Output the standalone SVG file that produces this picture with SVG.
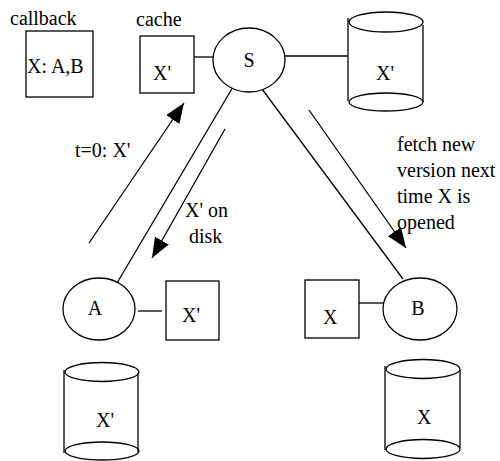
<svg xmlns="http://www.w3.org/2000/svg" width="500" height="461" viewBox="0 0 500 461">
<style>
text{font-family:"Liberation Serif","Times New Roman",serif;font-size:20px;fill:#000}
.s{fill:#fff;stroke:#000;stroke-width:1.3}
.l{stroke:#000;stroke-width:1.3;fill:none}
</style>
<defs>
<marker id="ah" markerUnits="userSpaceOnUse" viewBox="0 0 20 16" refX="20" refY="8" markerWidth="20" markerHeight="16" orient="auto">
<path d="M0,0 L20,8 L0,16 z" fill="#000"/>
</marker>
</defs>
<rect width="500" height="461" fill="#fff"/>
<g id="connectors">
<line class="l" x1="192" y1="57" x2="214" y2="57"/>
<line class="l" x1="285" y1="56" x2="348" y2="56"/>
<line class="l" x1="233" y1="87" x2="117" y2="283"/>
<line class="l" x1="262" y1="89" x2="403" y2="279"/>
<line class="l" x1="138" y1="311" x2="162" y2="311"/>
<line class="l" x1="356" y1="303" x2="383" y2="303"/>
<line class="l" x1="89" y1="243" x2="184" y2="103" marker-end="url(#ah)"/>
<line class="l" x1="225" y1="129" x2="152" y2="258" marker-end="url(#ah)"/>
<line class="l" x1="309" y1="110" x2="406" y2="248" marker-end="url(#ah)"/>
</g>
<g id="callback">
<text x="10" y="25">callback</text>
<rect class="s" x="26" y="31" width="67" height="66"/>
<text x="27" y="73">X: A,B</text>
</g>
<g id="server-cache">
<text x="136" y="26">cache</text>
<rect class="s" x="140" y="36" width="54" height="57"/>
<text x="153" y="80">X'</text>
</g>
<g id="S">
<ellipse class="s" cx="249" cy="60" rx="36" ry="32"/>
<text x="249" y="67" text-anchor="middle">S</text>
</g>
<g id="server-disk">
<line class="l" x1="348" y1="18" x2="348" y2="101"/>
<line class="l" x1="423" y1="25" x2="423" y2="102"/>
<ellipse class="l" cx="386" cy="22" rx="37" ry="10"/>
<ellipse class="l" cx="386" cy="102" rx="37" ry="9"/>
<text x="376" y="80">X'</text>
</g>
<g id="labels">
<text x="75" y="157">t=0: X'</text>
<text x="185" y="217">X' on</text>
<text x="189" y="243">disk</text>
<text x="397" y="151">fetch new</text>
<text x="397" y="177">version next</text>
<text x="397" y="203">time X is</text>
<text x="397" y="229">opened</text>
</g>
<g id="A">
<ellipse class="s" cx="99" cy="309" rx="36" ry="31"/>
<text x="95" y="315" text-anchor="middle">A</text>
</g>
<g id="A-cache">
<rect class="s" x="166" y="281" width="53" height="59"/>
<text x="182" y="322">X'</text>
</g>
<g id="A-disk">
<line class="l" x1="64" y1="370" x2="64" y2="453"/>
<line class="l" x1="138" y1="373" x2="138" y2="452"/>
<ellipse class="l" cx="102" cy="372" rx="37" ry="9.5"/>
<ellipse class="l" cx="102" cy="451" rx="37" ry="9"/>
<text x="96" y="427">X'</text>
</g>
<g id="B">
<ellipse class="s" cx="420" cy="309" rx="37" ry="31"/>
<text x="418" y="315" text-anchor="middle">B</text>
</g>
<g id="B-cache">
<rect class="s" x="305" y="280" width="54" height="58"/>
<text x="323" y="324">X</text>
</g>
<g id="B-disk">
<line class="l" x1="385" y1="366" x2="385" y2="450"/>
<line class="l" x1="460" y1="370" x2="460" y2="448"/>
<ellipse class="l" cx="423" cy="369" rx="37" ry="9.5"/>
<ellipse class="l" cx="423" cy="449" rx="37" ry="9.5"/>
<text x="417" y="424">X</text>
</g>
</svg>
